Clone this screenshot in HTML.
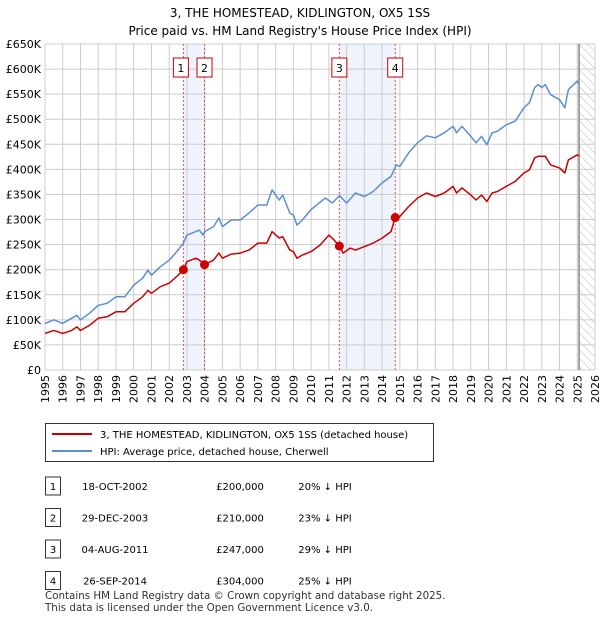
<!DOCTYPE html>
<html><head><meta charset="utf-8"><style>
body{margin:0;background:#fff;font-family:"Liberation Sans","DejaVu Sans",sans-serif;}
svg text{font-family:"DejaVu Sans","Liberation Sans",sans-serif;}
</style></head><body>
<svg width="600" height="620" xmlns="http://www.w3.org/2000/svg">
<defs><pattern id="hatch" width="6" height="6" patternUnits="userSpaceOnUse" patternTransform="rotate(-45)"><line x1="0" y1="0" x2="0" y2="6" stroke="#bbb" stroke-width="1"/></pattern></defs>
<text x="300" y="17" text-anchor="middle" font-size="12">3, THE HOMESTEAD, KIDLINGTON, OX5 1SS</text>
<text x="300" y="35" text-anchor="middle" font-size="12">Price paid vs. HM Land Registry's House Price Index (HPI)</text>
<g id="plot"></g>
<g id="legend">
<rect x="45.5" y="423.5" width="388" height="38" fill="#fff" stroke="#333"/>
<line x1="52" y1="434" x2="92" y2="434" stroke="#cc0000" stroke-width="2"/>
<text x="100" y="438" font-size="10">3, THE HOMESTEAD, KIDLINGTON, OX5 1SS (detached house)</text>
<line x1="52" y1="451" x2="92" y2="451" stroke="#5b8ed6" stroke-width="2"/>
<text x="100" y="455" font-size="10">HPI: Average price, detached house, Cherwell</text>
</g>
<g id="table" font-size="10"></g>
<text x="45" y="599" font-size="10.3" fill="#333">Contains HM Land Registry data © Crown copyright and database right 2025.</text>
<text x="45" y="611" font-size="10.3" fill="#333">This data is licensed under the Open Government Licence v3.0.</text>
</svg>
<script>
const hpiYears=[1995,1995.5,1996,1996.5,1996.8,1997,1997.5,1998,1998.5,1999,1999.5,2000,2000.5,2000.8,2001,2001.5,2002,2002.5,2002.8,2003,2003.5,2003.7,2003.9,2004,2004.5,2004.8,2005,2005.5,2006,2006.5,2007,2007.5,2007.8,2008.2,2008.4,2008.8,2009,2009.2,2009.5,2010,2010.8,2011.2,2011.6,2012,2012.5,2013,2013.5,2014,2014.5,2014.8,2015,2015.5,2016,2016.5,2017,2017.5,2018,2018.2,2018.5,2019,2019.3,2019.6,2019.9,2020.2,2020.5,2021,2021.5,2022,2022.3,2022.6,2022.8,2023,2023.2,2023.5,2024,2024.3,2024.5,2025,2025.1];
const hpiValues=[93,100,93,103,109,100,113,129,133,146,146,169,183,199,189,206,219,239,253,269,276,279,269,276,286,303,286,299,299,313,329,329,359,339,349,313,309,289,299,320,343,333,348,333,353,346,356,373,386,409,406,433,453,467,463,473,486,473,486,466,453,466,449,473,476,489,496,523,533,563,569,563,569,549,539,523,559,576,569];
const priceYears=[1995,1995.5,1996,1996.5,1996.8,1997,1997.5,1998,1998.5,1999,1999.5,2000,2000.5,2000.8,2001,2001.5,2002,2002.5,2002.8,2003,2003.5,2003.7,2003.99,2004.5,2004.8,2005,2005.5,2006,2006.5,2007,2007.5,2007.8,2008.2,2008.4,2008.8,2009,2009.2,2009.5,2010,2010.5,2011,2011.3,2011.59,2011.8,2012.2,2012.5,2013,2013.5,2014,2014.5,2014.74,2015,2015.5,2016,2016.5,2017,2017.5,2018,2018.2,2018.5,2019,2019.3,2019.6,2019.9,2020.2,2020.5,2021,2021.5,2022,2022.3,2022.6,2022.8,2023.2,2023.5,2024,2024.3,2024.5,2025,2025.1];
const priceValues=[73,79,73,79,86,79,89,103,106,116,116,133,146,159,153,166,173,189,200,216,223,219,210,219,233,223,231,233,239,253,253,276,263,266,239,236,223,229,236,249,269,259,247,233,243,239,246,253,263,276,304,306,326,343,353,346,353,366,353,363,349,339,349,336,353,356,366,376,393,399,423,426,426,409,403,393,419,429,426];
const saleYears=[2002.8,2003.99,2011.59,2014.74];
const saleValues=[200,210,247,304];
const saleLabels=["1","2","3","4"];
const saleDates=["18-OCT-2002","29-DEC-2003","04-AUG-2011","26-SEP-2014"];
const salePrices=["£200,000","£210,000","£247,000","£304,000"];
const saleHpi=["20% ↓ HPI","23% ↓ HPI","29% ↓ HPI","25% ↓ HPI"];
const yTicks=[0,50,100,150,200,250,300,350,400,450,500,550,600,650];
const yTickLabels=["£0","£50K","£100K","£150K","£200K","£250K","£300K","£350K","£400K","£450K","£500K","£550K","£600K","£650K"];
const xTicks=[1995,1996,1997,1998,1999,2000,2001,2002,2003,2004,2005,2006,2007,2008,2009,2010,2011,2012,2013,2014,2015,2016,2017,2018,2019,2020,2021,2022,2023,2024,2025,2026];

const NS="http://www.w3.org/2000/svg";
const L=45,R=595,T=44,B=370;
const xs=y=>L+(y-1995)/(2026-1995)*(R-L);
const ys=v=>B-v/650*(B-T);
const plot=document.getElementById('plot');
function mk(tag,attrs,parent){const e=document.createElementNS(NS,tag);for(const k in attrs)e.setAttribute(k,attrs[k]);(parent||plot).appendChild(e);return e;}
[[0,1],[2,3]].forEach(p=>{const r=mk('rect',{x:xs(saleYears[p[0]]),y:T,width:xs(saleYears[p[1]])-xs(saleYears[p[0]]),height:B-T,fill:'#eef3fc'});

});
const h=mk('rect',{x:xs(2025.1),y:T,width:R-xs(2025.1),height:B-T,fill:'url(#hatch)'});


yTicks.forEach((v,i)=>{const g=mk('line',{x1:L,x2:R,y1:ys(v),y2:ys(v),stroke:'#ccc','stroke-width':1});


const t=mk('text',{x:L-4,y:ys(v)+4,'text-anchor':'end','font-size':11});t.textContent=yTickLabels[i];

});
xTicks.forEach(y=>{const g=mk('line',{x1:xs(y),x2:xs(y),y1:T,y2:B,stroke:'#ccc','stroke-width':1});


const t=mk('text',{x:0,y:0,'text-anchor':'end','font-size':11,transform:`translate(${xs(y)+4},${B+5}) rotate(-90)`});t.textContent=y;

});
const vl=mk('line',{x1:xs(2025.1),x2:xs(2025.1),y1:T,y2:B,stroke:'#888','stroke-width':1.5});


saleYears.forEach((y,i)=>{const l=mk('line',{x1:xs(y),x2:xs(y),y1:T,y2:B,stroke:'#e05060','stroke-width':1,'stroke-dasharray':'2,2'});


const cx=xs(y)-(i==0?2.5:0);
const bx=mk('rect',{x:cx-7.5,y:58,width:15,height:19,fill:'#fff',stroke:'#cc0000'});


const t=mk('text',{x:cx,y:72,'text-anchor':'middle','font-size':11});t.textContent=saleLabels[i];

});
function line(xa,va,color,name){const d=xa.map((x,i)=>(i?'L':'M')+xs(x).toFixed(1)+','+ys(va[i]).toFixed(1)).join('');
const p=mk('path',{d,fill:'none',stroke:color,'stroke-width':1.5,'stroke-linejoin':'round'});

}
line(hpiYears,hpiValues,'#5b8ed6','hpi-line');
line(priceYears,priceValues,'#cc0000','price-paid-line');
saleYears.forEach((y,i)=>{const c=mk('circle',{cx:xs(y),cy:ys(saleValues[i]),r:4.5,fill:'#cc0000'});

});
const tb=document.getElementById('table');
saleLabels.forEach((s,i)=>{const y=487+i*31.5;
const b=mk('rect',{x:45.5,y:y-10,width:15,height:18,fill:'#fff',stroke:'#333'},tb);


const cells=[[53,s],[115,saleDates[i]],[240,salePrices[i]],[325,saleHpi[i]]];
cells.forEach(c=>{const t=mk('text',{x:c[0],y:y+3,'text-anchor':'middle','font-size':10},tb);t.textContent=c[1];

});});
</script>
</body></html>
